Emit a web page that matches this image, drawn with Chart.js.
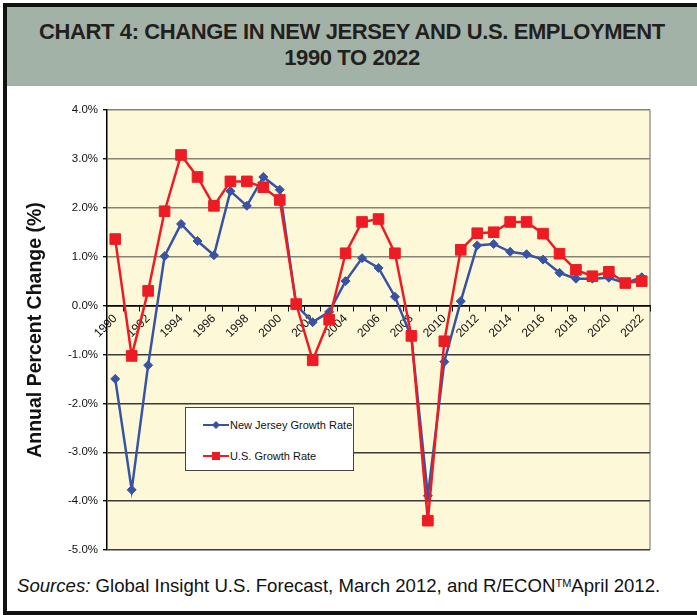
<!DOCTYPE html>
<html>
<head>
<meta charset="utf-8">
<script src="https://cdn.jsdelivr.net/npm/chart.js@4.4.1/dist/chart.umd.min.js"></script>
<style>
  html, body { margin: 0; padding: 0; background: #fff; }
  body { width: 697px; height: 615px; position: relative; overflow: hidden; font-family: "Liberation Sans", Arial, sans-serif; }
  #frame { position: absolute; left: 3px; top: 3px; width: 700px; height: 604px; border: 4px solid #111; border-right: none; }
  #title { position: absolute; left: 7px; top: 7px; width: 690px; height: 79px; background: #a3b2a7; color: #231f20;
           font-weight: bold; font-size: 22px; letter-spacing: -0.4px; text-align: center; line-height: 26px; padding-top: 12px; box-sizing: border-box; }
  #chart { position: absolute; left: 8px; top: 92px; }
  #legend { position: absolute; left: 185px; top: 407px; width: 167px; height: 62px; background: #fff; border: 1px solid #444;
            font-size: 11px; color: #111; white-space: nowrap; }
  .row { position: absolute; left: 17px; height: 14px; display: flex; align-items: center; }
  .row span { margin-left: 1px; }
  #sources { position: absolute; left: 17px; top: 575px; font-size: 18.6px; color: #111; white-space: nowrap; }
  #sources sup { font-size: 11px; vertical-align: 5px; }
</style>
</head>
<body>
<div id="frame"></div>
<div id="title">CHART 4: CHANGE IN NEW JERSEY AND U.S. EMPLOYMENT<br>1990 TO 2022</div>
<canvas id="chart" width="680" height="480"></canvas>
<div id="legend">
  <div class="row" style="top:10px">
    <svg width="26" height="12"><line x1="0" y1="6" x2="26" y2="6" stroke="#3953a4" stroke-width="2"/><polygon points="13,2 17,6 13,10 9,6" fill="#3953a4"/></svg>
    <span>New Jersey Growth Rate</span>
  </div>
  <div class="row" style="top:41px">
    <svg width="26" height="12"><line x1="0" y1="6" x2="26" y2="6" stroke="#ed1c24" stroke-width="2"/><rect x="9" y="2" width="8" height="8" fill="#ed1c24"/></svg>
    <span>U.S. Growth Rate</span>
  </div>
</div>
<div id="sources"><i>Sources:</i> Global Insight U.S. Forecast, March 2012, and R/ECON<sup>TM</sup>April 2012.</div>

<script>
// data
const years = ['1990','1991','1992','1993','1994','1995','1996','1997','1998','1999','2000',
  '2001','2002','2003','2004','2005','2006','2007','2008','2009','2010',
  '2011','2012','2013','2014','2015','2016','2017','2018','2019','2020','2021','2022'];
const njGrowth = [-1.50, -3.77, -1.22, 1.01, 1.67, 1.32, 1.03, 2.34, 2.04, 2.63, 2.37,
  0.01, -0.34, -0.13, 0.50, 0.97, 0.77, 0.18, -0.65, -3.89, -1.15,
  0.09, 1.23, 1.26, 1.10, 1.05, 0.94, 0.67, 0.55, 0.55, 0.57, 0.46, 0.58];
const usGrowth = [1.36, -1.03, 0.30, 1.93, 3.08, 2.63, 2.04, 2.54, 2.54, 2.42, 2.16,
  0.03, -1.12, -0.29, 1.07, 1.71, 1.77, 1.07, -0.62, -4.40, -0.73,
  1.14, 1.48, 1.50, 1.71, 1.71, 1.47, 1.06, 0.73, 0.60, 0.69, 0.46, 0.50];
const yMin = -5;
const yMax = 4;

// yellow plot background + grey right edge
const plotBg = {
  id: 'plotBg',
  beforeDraw(chart) {
    const { ctx, chartArea: a } = chart;
    ctx.save();
    ctx.fillStyle = '#fdf9d8';
    ctx.fillRect(a.left, a.top, a.right - a.left, a.bottom - a.top);
    ctx.strokeStyle = '#9a9a9a';
    ctx.lineWidth = 1.5;
    ctx.beginPath();
    ctx.moveTo(a.right, a.top);
    ctx.lineTo(a.right, a.bottom);
    ctx.stroke();
    ctx.restore();
  }
};

new Chart(document.getElementById('chart'), {
  type: 'line',
  data: {
    labels: years,
    datasets: [
      {
        label: 'New Jersey Growth Rate',
        data: njGrowth,
        borderColor: '#3953a4',
        backgroundColor: '#3953a4',
        borderWidth: 2.5,
        pointStyle: 'rectRot',
        pointRadius: 4.5,
        pointBorderWidth: 1,
        tension: 0,
        order: 1
      },
      {
        label: 'U.S. Growth Rate',
        data: usGrowth,
        borderColor: '#ed1c24',
        backgroundColor: '#ed1c24',
        borderWidth: 2.5,
        pointStyle: 'rect',
        pointRadius: 7.5,
        pointBorderWidth: 1,
        tension: 0,
        order: 0
      }
    ]
  },
  options: {
    responsive: false,
    animation: false,
    layout: { padding: { left: 0, right: 38, top: 18, bottom: 22 } },
    plugins: { legend: { display: false }, tooltip: { enabled: false } },
    scales: {
      x: {
        type: 'category',
        position: { y: 0 },
        offset: true,
        afterFit(scale) { scale.height = 0; },
        grid: { offset: true, drawOnChartArea: false, drawTicks: true, tickLength: 5, color: '#111', lineWidth: 1 },
        border: { display: true, color: '#000', width: 1.5 },
        ticks: {
          autoSkip: false,
          maxRotation: 45,
          minRotation: 45,
          padding: 1,
          color: '#111',
          font: { family: 'Liberation Sans', size: 12 },
          callback(v, i) { return i % 2 === 0 ? years[i] : ''; }
        }
      },
      y: {
        min: yMin,
        max: yMax,
        afterFit(scale) { scale.width = 99; },
        grid: {
          color(c) { return c.tick.value === 0 ? '#000' : (c.tick.value > 0 ? '#858372' : '#3a3a3a'); },
          lineWidth: 1.4,
          tickColor: '#111',
          tickLength: 4
        },
        border: { display: true, color: '#000', width: 1.5 },
        ticks: {
          stepSize: 1,
          padding: 5,
          color: '#111',
          font: { family: 'Liberation Sans', size: 11.5 },
          callback(v) { return v.toFixed(1) + '%'; }
        },
        title: {
          display: true,
          text: 'Annual Percent Change (%)',
          color: '#111',
          font: { family: 'Liberation Sans', size: 19.5, weight: 'bold' },
          padding: { top: 16, bottom: 0 }
        }
      }
    }
  },
  plugins: [plotBg]
});
</script>
</body>
</html>
